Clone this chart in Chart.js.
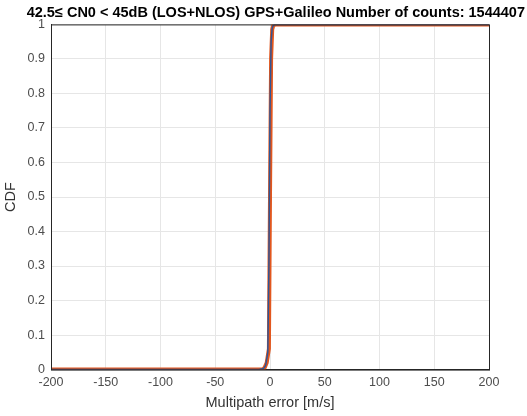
<!DOCTYPE html>
<html>
<head>
<meta charset="utf-8">
<script src="https://cdn.jsdelivr.net/npm/chart.js@4/dist/chart.umd.min.js"></script>
<style>
  html, body { margin: 0; padding: 0; background: #fff; }
  #wrap { width: 527px; height: 416px; position: relative; }
</style>
</head>
<body>
<div id="wrap"><canvas id="cdf"></canvas></div>
<script>
// multipath error (m/s) and cumulative fraction
var errLos = [-200, -10, -6, -4, -2, -1, 0, 1, 2, 3, 5, 200];
var cdfLos = [0, 0, 0.003, 0.012, 0.05, 0.3, 0.75, 0.95, 0.99, 0.997, 1, 1];

var errAll = [-200, -7, -5, -3, -1, 0, 1, 2, 3, 5, 200];
var cdfAll = [0, 0, 0.005, 0.02, 0.06, 0.5, 0.9, 0.985, 0.997, 1, 1];

var xTicks = [-200, -150, -100, -50, 0, 50, 100, 150, 200];
var yTicks = [0, 0.1, 0.2, 0.3, 0.4, 0.5, 0.6, 0.7, 0.8, 0.9, 1];

function pts(xs, ys) {
    return xs.map(function (x, i) { return {x: x, y: ys[i]}; });
}

// matlab-like closed box around the axes
var boxPlugin = {
    id: 'box',
    afterDraw: function (chart) {
        var a = chart.chartArea, ctx = chart.ctx;
        ctx.save();
        ctx.strokeStyle = '#262626';
        ctx.lineWidth = 1;
        ctx.strokeRect(a.left + 0.5, a.top + 0.5, a.right - a.left, a.bottom - a.top);
        ctx.restore();
    }
};

Chart.defaults.font.family = '"Liberation Sans", Arial, sans-serif';
Chart.defaults.color = '#4d4d4d';

new Chart(document.getElementById('cdf'), {
    type: 'scatter',
    data: {
        datasets: [{
            label: 'LOS',
            data: pts(errLos, cdfLos),
            showLine: true,
            borderColor: '#2f5597',
            borderWidth: 1.5,
            pointRadius: 0,
            tension: 0
        }, {
            label: 'LOS+NLOS',
            data: pts(errAll, cdfAll),
            showLine: true,
            borderColor: '#e2571e',
            borderWidth: 4,
            pointRadius: 0,
            tension: 0
        }]
    },
    options: {
        responsive: true,
        maintainAspectRatio: false,
        animation: false,
        layout: { padding: { left: 2, right: 2, top: 0, bottom: 4 } },
        plugins: {
            legend: { display: false },
            tooltip: { enabled: false },
            title: {
                display: true,
                align: 'end',
                text: '42.5\u2264 CN0 < 45dB (LOS+NLOS) GPS+Galileo Number of counts: 1544407',
                color: '#000',
                font: { size: 14.5, weight: 'bold' },
                padding: { top: 4, bottom: 3 }
            }
        },
        scales: {
            x: {
                type: 'linear',
                min: -200, max: 200,
                afterBuildTicks: function (s) { s.ticks = xTicks.map(function (v) { return {value: v}; }); },
                grid: { color: '#e6e6e6', tickLength: 0, drawTicks: false },
                border: { color: '#262626' },
                ticks: { font: { size: 12.5 }, padding: 5, maxRotation: 0 },
                title: { display: true, text: 'Multipath error [m/s]', font: { size: 14.5 }, color: '#333', padding: { top: 0, bottom: 0 } }
            },
            y: {
                type: 'linear',
                min: 0, max: 1,
                afterBuildTicks: function (s) { s.ticks = yTicks.map(function (v) { return {value: v}; }); },
                afterFit: function (s) { s.width = 49; },
                grid: { color: '#e6e6e6', tickLength: 0, drawTicks: false },
                border: { color: '#262626' },
                ticks: {
                    font: { size: 12.5 }, padding: 6,
                    callback: function (v) { return String(v); }
                },
                title: { display: true, text: 'CDF', font: { size: 14.5 }, color: '#333', padding: { top: 0, bottom: 2 } }
            },
            // empty right axis, only keeps the right margin free
            yr: {
                type: 'linear',
                position: 'right',
                min: 0, max: 1,
                afterFit: function (s) { s.width = 36; },
                grid: { drawOnChartArea: false, drawTicks: false },
                border: { display: false },
                ticks: { display: false }
            }
        }
    },
    plugins: [boxPlugin]
});
</script>
</body>
</html>
